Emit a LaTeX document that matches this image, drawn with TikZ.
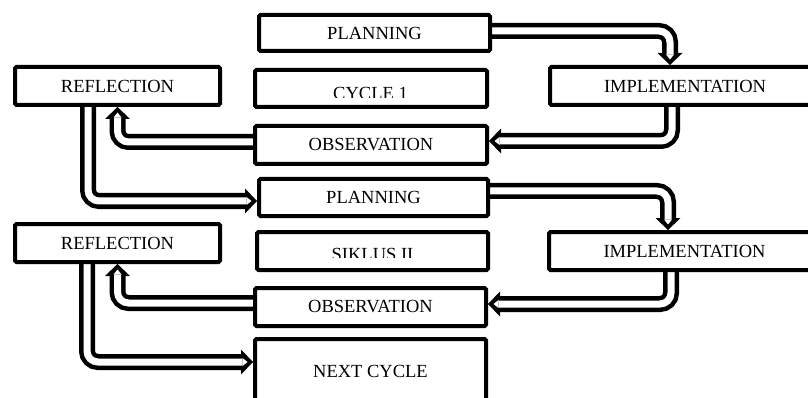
\documentclass[tikz,border=0pt]{standalone}
\usepackage{fontspec}
\setmainfont{Liberation Serif}
\usetikzlibrary{arrows.meta,backgrounds}
\begin{document}
\begin{tikzpicture}[x=1pt,y=-1pt,
  box/.style={draw,line width=4pt,fill=white,inner sep=0pt,rounded corners=1.5pt,
    font=\fontsize{18.5}{20}\selectfont},
  boxtext/.style={font=\fontsize{18.5}{20}\selectfont,inner sep=0pt},
  flow/.style={draw=black,line width=16pt,rounded corners=11pt,
    -{Triangle[width=25pt,length=12pt,line width=0pt]},
    postaction={draw=white,line width=7pt,shorten >=5.5pt,
      -{Triangle[width=8pt,length=5pt,line width=0pt]}}}
]
\useasboundingbox (0,0) rectangle (808,398);
% boxes
\node[box,minimum width=231pt,minimum height=36pt] (p1) at (374.5,33) {PLANNING};
\node[box,minimum width=232pt,minimum height=37pt] (c1) at (371,88.5) {};
\node[box,minimum width=232pt,minimum height=38pt] (o1) at (371,145) {OBSERVATION};
\node[box,minimum width=270pt,minimum height=38pt] (i1) at (685,86) {IMPLEMENTATION};
\node[box,minimum width=205pt,minimum height=38pt] (r1) at (117.5,86) {REFLECTION};
\node[box,minimum width=229pt,minimum height=37pt] (p2) at (373.5,197.5) {PLANNING};
\node[box,minimum width=231pt,minimum height=38pt] (s2) at (372.5,251) {};
\node[box,minimum width=271pt,minimum height=38pt] (i2) at (684.5,251) {IMPLEMENTATION};
\node[box,minimum width=231pt,minimum height=38pt] (o2) at (370.5,307) {OBSERVATION};
\node[box,minimum width=205pt,minimum height=38pt] (r2) at (117.5,243) {REFLECTION};
\node[box,minimum width=231pt,minimum height=64pt] (nc) at (370.5,371) {NEXT CYCLE};
% titles cut off at the bottom
\begin{scope}
\clip (257,72) rectangle (485,97.8);
\node[boxtext] (c1t) at (370.5,93) {CYCLE 1};
\end{scope}
\begin{scope}
\clip (259,234) rectangle (486,257.8);
\node[boxtext] (s2t) at (372.5,254.8) {SIKLUS II};
\end{scope}
% connectors
\begin{pgfonlayer}{background}
\draw[flow] ([yshift=2pt]p1.east) -| ([xshift=-15pt]i1.north);
\draw[flow] ([xshift=-13pt]i1.south) |- ([yshift=4pt]o1.east);
\draw[flow] ([yshift=3pt]o1.west) -| (r1.south);
\draw[flow] ([xshift=-29.5pt]r1.south) |- ([yshift=-3.5pt]p2.west);
\draw[flow] ([yshift=6.5pt]p2.east) -| ([xshift=-16.5pt]i2.north);
\draw[flow] ([xshift=-13.5pt]i2.south) |- ([yshift=3pt]o2.east);
\draw[flow] ([yshift=4pt]o2.west) -| (r2.south);
\draw[flow] ([xshift=-30.5pt]r2.south) |- ([yshift=9pt]nc.west);
\end{pgfonlayer}
\end{tikzpicture}
\end{document}
